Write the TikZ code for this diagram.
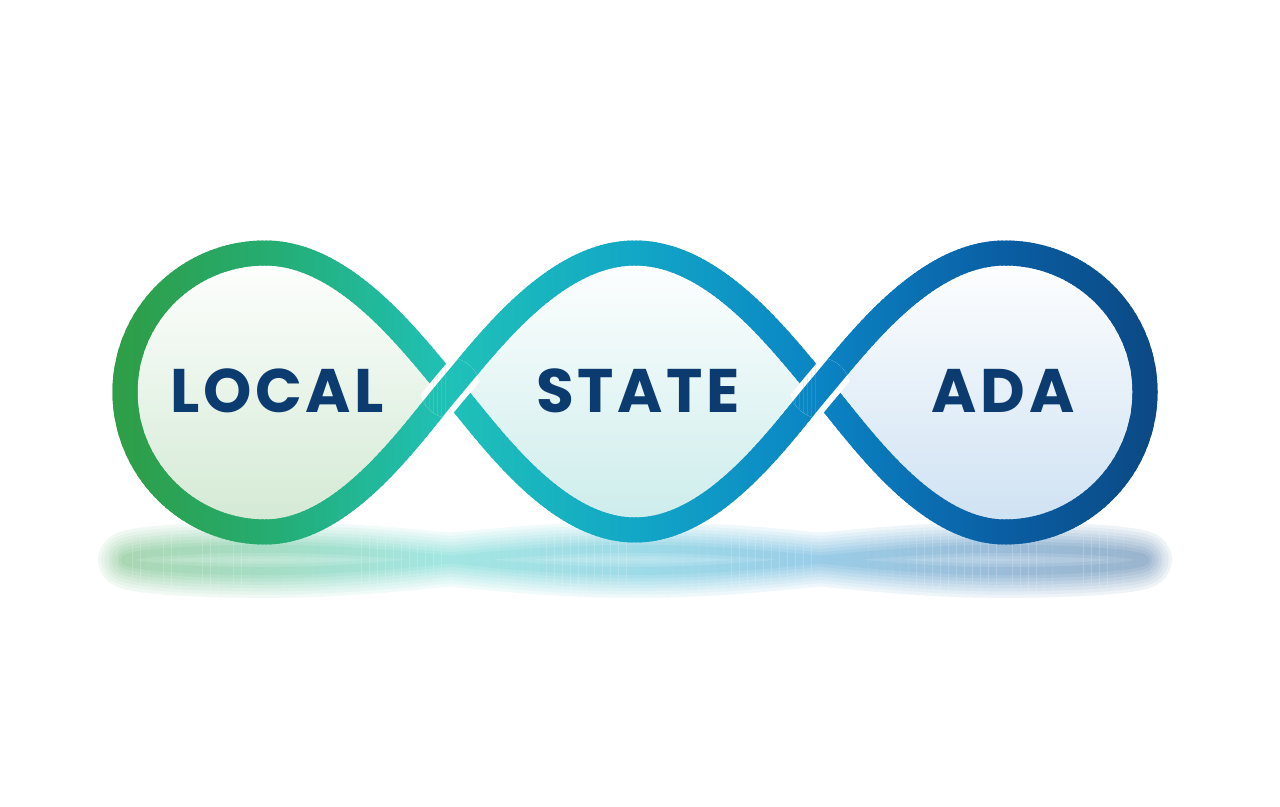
\documentclass[tikz,border=0pt]{standalone}
\usepackage{fontspec}
\newfontfamily\lblfont{Poppins}[LetterSpace=6]
\definecolor{txt}{HTML}{0C3B70}
\definecolor{cg}{HTML}{2E9E48}
\definecolor{c2}{HTML}{25AC70}
\definecolor{c3}{HTML}{1FC1B8}
\definecolor{c4}{HTML}{12A7C6}
\definecolor{c5}{HTML}{0A84C4}
\definecolor{c6}{HTML}{0A5EA3}
\definecolor{c7}{HTML}{0B4A86}
\definecolor{tintL}{HTML}{D2E9D3}
\definecolor{tintM}{HTML}{CBECEB}
\definecolor{tintR}{HTML}{CDE1F2}
\def\fullpath{(450,388) .. controls (411,342) and (345,253) .. (265,253) .. controls (188,253) and (125,315) .. (125,392) .. controls (125,469) and (188,532) .. (265,532) .. controls (345,532) and (411,434) .. (450,388) .. controls (489,342) and (555,253) .. (635,253) .. controls (715,253) and (781,342) .. (820,388) .. controls (859,434) and (925,532) .. (1005,532) .. controls (1082,532) and (1145,469) .. (1145,392) .. controls (1145,315) and (1082,253) .. (1005,253) .. controls (925,253) and (859,342) .. (820,388) .. controls (781,434) and (715,530) .. (635,530) .. controls (555,530) and (489,434) .. (450,388) -- cycle}
\def\overA{(265,532) .. controls (345,532) and (411,434) .. (450,388) .. controls (489,342) and (555,253) .. (635,253)}
\def\overB{(635,530) .. controls (715,530) and (781,434) .. (820,388) .. controls (859,342) and (925,253) .. (1005,253)}
\tikzset{
  lbl/.style={font=\lblfont\bfseries\fontsize{35}{35}\selectfont, text=txt, inner sep=0pt},
  loopline/.style={line width=0.5cm, line join=round},
  gapline/.style={white, line width=0.74cm},
  refl/.style={line join=round}
}
\begin{document}
\begin{tikzpicture}[x=0.02cm,y=-0.02cm]
  \useasboundingbox (0,0) rectangle (1280,807);
  \fill[white] (0,0) rectangle (1280,807);
  % interiors
  \fill[top color=white, middle color=white, bottom color=tintL] (265,253) .. controls (188,253) and (125,315) .. (125,392) .. controls (125,469) and (188,532) .. (265,532) .. controls (345,532) and (411,434) .. (450,388) .. controls (411,342) and (345,253) .. (265,253) -- cycle;
  \fill[top color=white, middle color=white, bottom color=tintM] (450,388) .. controls (489,342) and (555,253) .. (635,253) .. controls (715,253) and (781,342) .. (820,388) .. controls (781,434) and (715,530) .. (635,530) .. controls (555,530) and (489,434) .. (450,388) -- cycle;
  \fill[top color=white, middle color=white, bottom color=tintR] (820,388) .. controls (859,342) and (925,253) .. (1005,253) .. controls (1082,253) and (1145,315) .. (1145,392) .. controls (1145,469) and (1082,532) .. (1005,532) .. controls (925,532) and (859,434) .. (820,388) -- cycle;
  % pass 1: reflection, pass 2: strokes; vertical strips give the colour gradient
  \foreach \pass/\sw in {1/8,2/4}{
  \foreach \xa/\xb/\ca/\cb in {84/125/cg/cg, 125/265/cg/c2, 265/450/c2/c3, 450/635/c3/c4, 635/820/c4/c5, 820/1005/c5/c6, 1005/1147/c6/c7, 1147/1196/c7/c7}{
    \pgfmathtruncatemacro\n{max(1,round((\xb-\xa)/\sw))}
    \foreach \k in {1,...,\n}{
      \pgfmathsetmacro\xl{\xa+(\k-1)*(\xb-\xa)/\n}
      \pgfmathsetmacro\xr{\xa+\k*(\xb-\xa)/\n+2.5}
      \pgfmathsetmacro\pct{100*(\k-0.5)/\n}
      \pgfmathtruncatemacro\nearA{and(\xr>418,\xl<482)}
      \pgfmathtruncatemacro\nearB{and(\xr>788,\xl<852)}
      \colorlet{sc}{\cb!\pct!\ca}
      \begin{scope}
        \clip (\xl,0) rectangle (\xr,807);
        \ifnum\pass=1
        \begin{scope}[yshift=-10.573cm, yscale=0.08]
          \foreach \i in {1,...,8}{
            \pgfmathsetmacro\lw{0.02*(60-6.5*\i)}
            \pgfmathsetmacro\pp{2+4.9*\i}
            \draw[refl, sc!\pp!white, line width=\lw cm] \fullpath;
          }
        \end{scope}
        \else
        \draw[loopline, sc] \fullpath;
        \ifnum\nearA=1
        \begin{scope}
          \clip (450,388) circle (30);
          \draw[gapline] \overA;
          \draw[loopline, sc] \overA;
        \end{scope}
        \fi
        \ifnum\nearB=1
        \begin{scope}
          \clip (820,388) circle (30);
          \draw[gapline] \overB;
          \draw[loopline, sc] \overB;
        \end{scope}
        \fi
        \fi
      \end{scope}
    }
  }}
  % labels
  \node[lbl] (local) at (277,391) {LOCAL};
  \node[lbl] (state) at (638,391) {STATE};
  \node[lbl] (ada) at (1003,391) {ADA};
\end{tikzpicture}
\end{document}
